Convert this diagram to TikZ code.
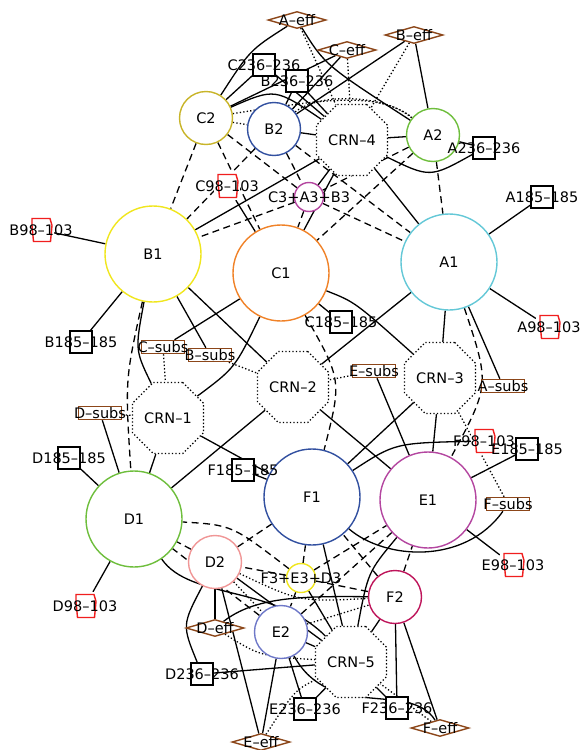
\documentclass[tikz,border=0pt]{standalone}
\usepackage{fontspec}
\setmainfont{DejaVu Sans}
\usetikzlibrary{shapes.geometric,backgrounds}
\definecolor{colC2}{RGB}{200,180,40}
\definecolor{colBlue}{RGB}{50,80,160}
\definecolor{colGreen}{RGB}{110,190,60}
\definecolor{colMag}{RGB}{180,70,160}
\definecolor{colYel}{RGB}{240,230,30}
\definecolor{colOrg}{RGB}{240,130,40}
\definecolor{colCyan}{RGB}{100,200,215}
\definecolor{colPink}{RGB}{240,150,150}
\definecolor{colCrim}{RGB}{190,20,90}
\definecolor{colLav}{RGB}{110,120,200}
\definecolor{brn}{RGB}{140,70,25}
\definecolor{redA}{RGB}{240,30,30}
\begin{document}
\begin{tikzpicture}[x=1pt,y=-1pt,font=\fontsize{14.5}{16}\selectfont,
  big/.style={circle,draw,line width=1.4pt,fill=white,minimum size=96pt,inner sep=0pt},
  mid/.style={circle,draw,line width=1.4pt,fill=white,minimum size=53pt,inner sep=0pt},
  small/.style={circle,draw,line width=1.4pt,fill=white,minimum size=29pt,inner sep=0pt},
  crn/.style={regular polygon,regular polygon sides=8,draw,line width=1.3pt,dash pattern=on 1.3pt off 2.2pt,fill=white,minimum size=77pt,inner sep=0pt},
  sq/.style={rectangle,draw,line width=1.4pt,fill=white,minimum size=22pt,inner sep=0pt},
  subs/.style={rectangle,draw=brn,line width=1.5pt,fill=white,minimum width=43pt,minimum height=13pt,inner sep=0pt},
  eff/.style={diamond,draw=brn,line width=1.4pt,fill=white,minimum width=58pt,minimum height=17pt,inner sep=0pt},
  mutn/.style={rectangle,fill=white,minimum width=26pt,minimum height=28pt,inner sep=0pt,
    path picture={\draw[redA,line width=1.4pt,x=1pt,y=-1pt] ([shift={(-9,-11.5)}]path picture bounding box.center) -- ++(18,0) -- ++(2,7) -- ++(-1.5,16) -- ++(-17,0) -- ++(-1.5,-16) -- cycle;}},
  txt/.style={inner sep=0pt},
  sl/.style={line width=1.3pt},
  dl/.style={line width=1.3pt,dash pattern=on 7pt off 4.5pt},
  ol/.style={line width=1.3pt,dash pattern=on 1.3pt off 2.2pt}
]
\useasboundingbox (0,0) rectangle (584,750);
% effect diamonds
\node[eff] (Aeff) at (297,20) {};
\node[eff] (Ceff) at (347,50) {};
\node[eff] (Beff) at (414,35) {};
\node[eff] (Deff) at (215,628) {};
\node[eff] (Eeff) at (261,742) {};
\node[eff] (Feff) at (440,728) {};
% 236 squares
\node[sq] (Cdd) at (264,65) {};
\node[sq] (Bdd) at (297,81) {};
\node[sq] (Add) at (484,148) {};
\node[sq] (Ddd) at (202,674) {};
\node[sq] (Edd) at (305,709) {};
\node[sq] (Fdd) at (397,708) {};
% 185 squares
\node[sq] (Asq) at (542,197) {};
\node[sq] (Bsq) at (81,342) {};
\node[sq] (Csq) at (341,322) {};
\node[sq] (Dsq) at (69,458) {};
\node[sq] (Esq) at (527,449) {};
\node[sq] (Fsq) at (243,470) {};
% 98-103
\node[mutn] (Ared) at (549,327) {};
\node[mutn] (Bred) at (41,230) {};
\node[mutn] (Cred) at (227,186) {};
\node[mutn] (Dred) at (85,606) {};
\node[mutn] (Ered) at (513,565) {};
\node[mutn] (Fred) at (484,441) {};
% subs
\node[subs] (Asub) at (503,386) {};
\node[subs] (Bsub) at (210,355) {};
\node[subs] (Csub) at (163,347) {};
\node[subs] (Dsub) at (100,413) {};
\node[subs] (Esub) at (374,371) {};
\node[subs] (Fsub) at (508,504) {};
% CRN
\node[crn] (crn1) at (168,418) {CRN–1};
\node[crn] (crn2) at (293,387) {CRN–2};
\node[crn] (crn3) at (440,378) {CRN–3};
\node[crn] (crn4) at (352,140) {CRN–4};
\node[crn] (crn5) at (351,662) {CRN–5};
% circles
\node[mid,draw=colC2] (C2) at (206,118) {C2};
\node[mid,draw=colBlue] (B2) at (274,129) {B2};
\node[mid,draw=colGreen] (A2) at (433,135) {A2};
\node[small,draw=colMag] (CAB) at (309,197) {};
\node[big,draw=colYel] (B1) at (153,254) {B1};
\node[big,draw=colOrg] (C1) at (281,273) {C1};
\node[big,draw=colCyan] (A1) at (449,262) {A1};
\node[big,draw=colBlue] (F1) at (312,497) {F1};
\node[big,draw=colMag] (E1) at (428,500) {E1};
\node[big,draw=colGreen] (D1) at (134,519) {D1};
\node[mid,draw=colPink] (D2) at (215,562) {D2};
\node[small,draw=colYel] (FED) at (301,578) {};
\node[mid,draw=colCrim] (F2) at (395,597) {F2};
\node[mid,draw=colLav] (E2) at (281,632) {E2};

% texts on top
\node[txt] at (Aeff) {A–eff};
\node[txt] at (Ceff) {C–eff};
\node[txt] at (Beff) {B–eff};
\node[txt] at (Deff) {D–eff};
\node[txt] at (Eeff) {E–eff};
\node[txt] at (Feff) {F–eff};
\node[txt] at (Cdd) {C236–236};
\node[txt] at (Bdd) {B236–236};
\node[txt] at (Add) {A236–236};
\node[txt] at (Ddd) {D236–236};
\node[txt] at (Edd) {E236–236};
\node[txt] at (Fdd) {F236–236};
\node[txt] at (Asq) {A185–185};
\node[txt] at (Bsq) {B185–185};
\node[txt] at (Csq) {C185–185};
\node[txt] at (Dsq) {D185–185};
\node[txt] at (Esq) {E185–185};
\node[txt] at (Fsq) {F185–185};
\node[txt] at (Ared) {A98–103};
\node[txt] at (Bred) {B98–103};
\node[txt] at (Cred) {C98–103};
\node[txt] at (Dred) {D98–103};
\node[txt] at (Ered) {E98–103};
\node[txt] at (Fred) {F98–103};
\node[txt] at (Asub) {A–subs};
\node[txt] at (Bsub) {B–subs};
\node[txt] at (Csub) {C–subs};
\node[txt] at (Dsub) {D–subs};
\node[txt] at (Esub) {E–subs};
\node[txt] at (Fsub) {F–subs};
\node[txt] at (CAB) {C3+A3+B3};
\node[txt] at (FED) {F3+E3+D3};

\begin{pgfonlayer}{background}
% top
\draw[sl] (Aeff) .. controls (250,50) .. (C2);
\draw[sl] (Aeff) .. controls (325,65) .. (A2);
\draw[ol] (Aeff) -- (crn4);
\draw[sl] (Ceff) -- (C2);
\draw[sl] (Ceff) -- (B2);
\draw[ol] (Ceff) -- (crn4);
\draw[sl] (Beff) -- (B2);
\draw[sl] (Beff) -- (A2);
\draw[ol] (Beff) -- (crn4);
\draw[sl] (Cdd) -- (C2);
\draw[sl] (Cdd) -- (crn4);
\draw[sl] (Bdd) -- (B2);
\draw[sl] (Bdd) -- (crn4);
\draw[sl] (C2) .. controls (275,88) .. (crn4);
\draw[ol] (C2) -- (B2);
\draw[ol] (B2) .. controls (320,92) and (385,95) .. (A2);
\draw[ol] (C2) .. controls (330,98) and (380,92) .. (A2);
\draw[sl] (B2) -- (crn4);
\draw[sl] (A2) -- (crn4);
\draw[sl] (A2) -- (Add);
\draw[sl] (crn4) .. controls (430,178) .. (Add);
\draw[dl] (A2) -- (A1);
\draw[dl] (A2) -- (C1);
\draw[dl] (A2) -- (CAB);
\draw[dl] (B2) -- (B1);
\draw[dl] (B2) -- (A1);
\draw[dl] (B2) -- (CAB);
\draw[dl] (C2) -- (C1);
\draw[dl] (C2) -- (B1);
\draw[dl] (C2) -- (CAB);
\draw[sl] (crn4) -- (B1);
\draw[sl] (crn4) -- (C1);
\draw[sl] (crn4) -- (A1);
\draw[sl] (crn4) -- (CAB);
\draw[dl] (CAB) -- (C1);
\draw[dl] (CAB) -- (B1);
\draw[dl] (CAB) -- (A1);
% leaves of X1
\draw[sl] (Bred) -- (B1);
\draw[sl] (Ared) -- (A1);
\draw[sl] (Cred) -- (C1);
\draw[sl] (Dred) -- (D1);
\draw[sl] (Ered) -- (E1);
\draw[sl] (Fred) .. controls (395,443) .. (F1);
\draw[sl] (Asq) -- (A1);
\draw[sl] (Bsq) -- (B1);
\draw[sl] (Csq) -- (C1);
\draw[sl] (Dsq) -- (D1);
\draw[sl] (Esq) -- (E1);
\draw[sl] (Fsq) -- (F1);
\draw[sl] (Asub) -- (A1);
\draw[sl] (Bsub) -- (B1);
\draw[sl] (Csub) -- (C1);
\draw[sl] (Dsub) -- (D1);
\draw[sl] (Esub) -- (E1);
\draw[sl] (Fsub) .. controls (465,565) and (385,560) .. (F1);
\draw[ol] (Bsub) -- (crn2);
\draw[ol] (Esub) -- (crn2);
\draw[ol] (Csub) -- (crn1);
\draw[ol] (Dsub) -- (crn1);
\draw[ol] (Fsub) -- (crn3);
% CRN 1-3
\draw[sl] (crn1) .. controls (135,350) .. (B1);
\draw[sl] (crn1) .. controls (235,368) .. (C1);
\draw[sl] (crn1) -- (D1);
\draw[sl] (crn1) -- (F1);
\draw[sl] (crn2) -- (B1);
\draw[sl] (crn2) -- (A1);
\draw[sl] (crn2) -- (D1);
\draw[sl] (crn2) -- (E1);
\draw[sl] (crn3) .. controls (355,302) .. (C1);
\draw[sl] (crn3) -- (A1);
\draw[sl] (crn3) -- (F1);
\draw[sl] (crn3) -- (E1);
\draw[dl] (B1) .. controls (125,380) .. (D1);
\draw[dl] (C1) .. controls (342,380) .. (F1);
\draw[dl] (A1) .. controls (490,385) .. (E1);
% bottom
\draw[dl] (D2) -- (D1);
\draw[dl] (E2) -- (E1);
\draw[dl] (F2) -- (F1);
\draw[dl] (D2) -- (F1);
\draw[dl] (F2) -- (E1);
\draw[dl] (E2) -- (D1);
\draw[dl] (FED) -- (F1);
\draw[dl] (FED) -- (E1);
\draw[dl] (FED) .. controls (232,525) .. (D1);
\draw[dl] (FED) -- (F2);
\draw[dl] (FED) -- (E2);
\draw[dl] (FED) -- (D2);
\draw[sl] (crn5) -- (F1);
\draw[sl] (crn5) .. controls (368,572) .. (E1);
\draw[sl] (crn5) -- (FED);
\draw[sl] (D1) .. controls (190,600) and (275,585) .. (crn5);
\draw[sl] (D2) -- (crn5);
\draw[sl] (D2) -- (Deff);
\draw[sl] (D2) .. controls (182,625) .. (Ddd);
\draw[sl] (D2) -- (Eeff);
\draw[sl] (Deff) .. controls (255,597) and (300,596) .. (F2);
\draw[ol] (Deff) .. controls (260,656) .. (crn5);
\draw[sl] (Ddd) -- (crn5);
\draw[ol] (D2) -- (E2);
\draw[ol] (E2) -- (F2);
\draw[ol] (D2) .. controls (300,602) .. (F2);
\draw[sl] (E2) -- (crn5);
\draw[sl] (E2) -- (Edd);
\draw[sl] (E2) -- (Eeff);
\draw[sl] (E2) .. controls (330,722) and (410,680) .. (Feff);
\draw[sl] (Edd) -- (crn5);
\draw[ol] (Eeff) .. controls (295,690) .. (crn5);
\draw[sl] (F2) -- (crn5);
\draw[sl] (F2) -- (Fdd);
\draw[sl] (F2) -- (Feff);
\draw[sl] (Fdd) -- (crn5);
\draw[ol] (Feff) -- (crn5);
\end{pgfonlayer}
\end{tikzpicture}
\end{document}
